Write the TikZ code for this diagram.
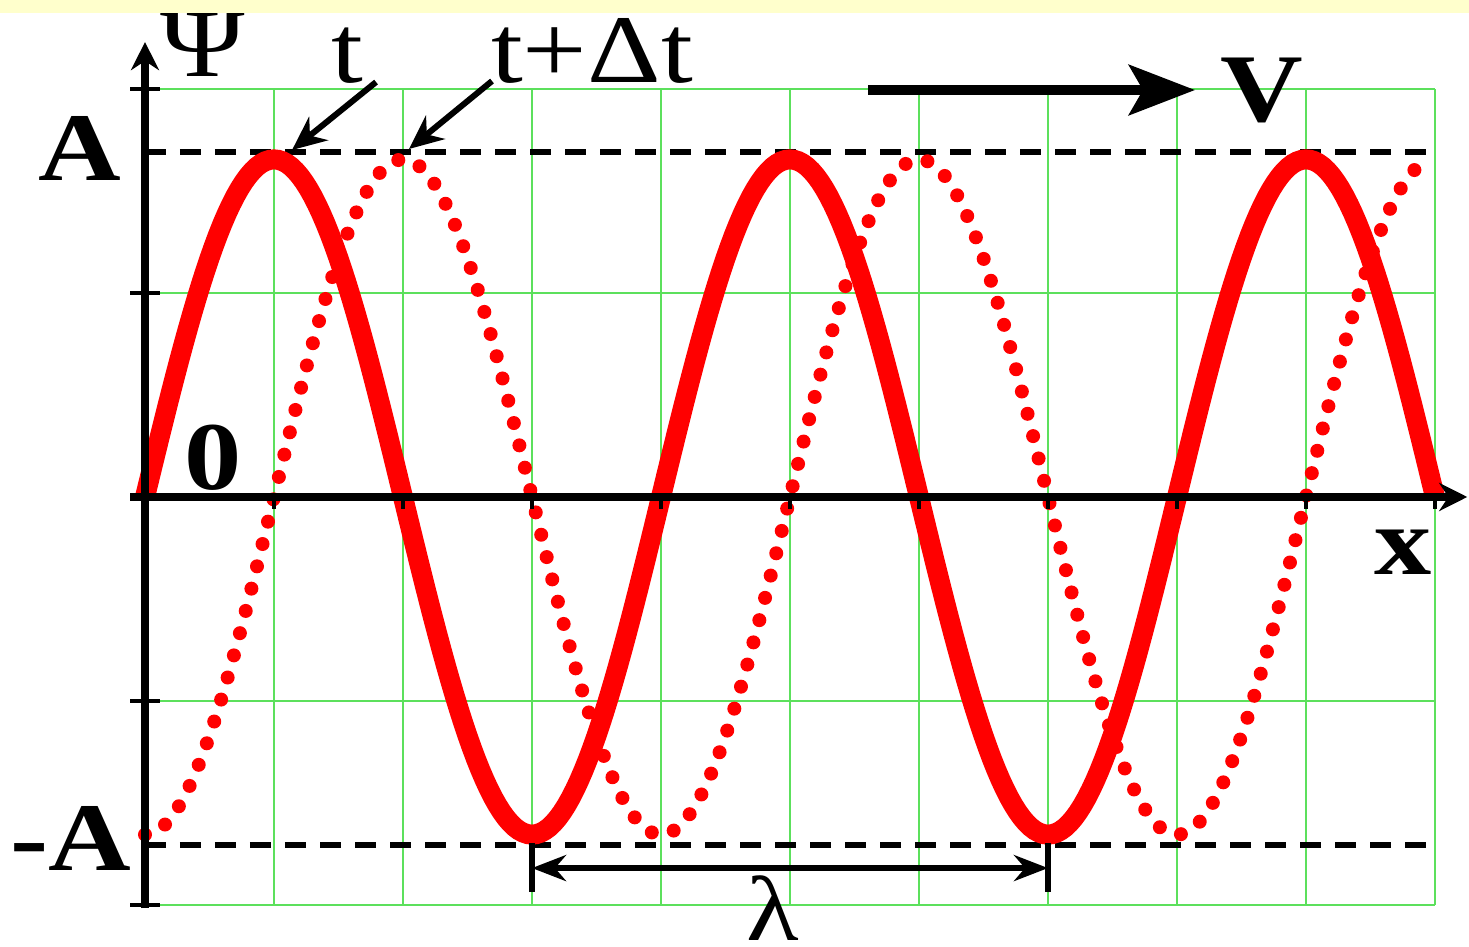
\documentclass[tikz,border=0pt]{standalone}
\usepackage{fontspec}
\setmainfont{Liberation Serif}[FakeStretch=1.18]
\usetikzlibrary{arrows.meta}
\definecolor{slideband}{HTML}{FFFFCC}
\definecolor{gridgreen}{HTML}{5CE05C}
\definecolor{wavered}{HTML}{FF0000}
\newcommand{\lblsize}{\fontsize{48.5}{58}\selectfont}
\newcommand{\wavenow}[1]{1.655*sin(90*(#1))}
\newcommand{\wavelater}[1]{-1.655*cos(90*(#1))}

\begin{document}
\begin{tikzpicture}[
  x=64.5pt,
  y=102pt,
  every node/.style={font=\lblsize, black, inner sep=0pt},
  heavy/.style={font=\lblsize\bfseries},
  axis/.style={black, line width=4pt, -{Stealth[length=14pt, width=14pt]}},
  tick/.style={black, line width=2.2pt},
  gridline/.style={gridgreen, line width=1pt},
  ampline/.style={black, line width=2.8pt, dash pattern=on 10.5pt off 7pt},
  solidwave/.style={wavered, line width=10pt},
  dotwave/.style={wavered, line width=7pt, line cap=round,
                  dash pattern=on 0pt off 11.5pt},
  pointer/.style={black, line width=3pt, -{Stealth[length=17pt, width=15pt]}},
  speed/.style={black, line width=5pt,
                -{Stealth[length=33pt, width=25pt, inset=7pt]}},
  span/.style={black, line width=2.8pt,
               {Stealth[length=17pt, width=13pt]}-{Stealth[length=17pt, width=13pt]}},
  lambar/.style={black, line width=2.8pt}
]
  % ---- frame: one grid step is 1 unit, the page keeps the slide margins ----
  \useasboundingbox (-1.12403,-2.20588) rectangle (10.26357,2.43627);
  \fill[white] (-1.12403,-2.20588) rectangle (10.26357,2.43627);

  % ---- grid ---------------------------------------------------------------
  \foreach \gx in {1,...,10}
    \draw[gridline] (\gx,-2) -- (\gx,2);
  \foreach \gy in {-2,-1,1,2}
    \draw[gridline] (0,\gy) -- (10,\gy);

  % ---- amplitude levels ---------------------------------------------------
  \draw[ampline] (0,1.692) -- (10,1.692);
  \draw[ampline] (0,-1.706) -- (10,-1.706);

  % ---- the wave at t (solid) and at t + dt (dotted, a quarter step on) ----
  \draw[solidwave] plot[domain=0:10, samples=301] (\x,{\wavenow{\x}});
  \draw[dotwave] plot[domain=0:9.92, samples=301] (\x,{\wavelater{\x}});

  % ---- axes ---------------------------------------------------------------
  \coordinate (yfoot) at (0,-2.015);
  \coordinate (ytop) at (0,2.23);
  \coordinate (xfoot) at (-0.116,0);
  \coordinate (xtip) at (10.25,0);
  \draw[axis] (yfoot) -- (ytop);
  \draw[axis] (xfoot) -- (xtip);
  \foreach \gy in {-2,-1,1,2}
    \draw[tick] (-0.116,\gy) -- (0.116,\gy);
  \foreach \gx in {1,...,10}
    \draw[tick] (\gx,0) -- (\gx,-0.06);

  % ---- labels -------------------------------------------------------------
  \node[heavy, anchor=base] (ampTop) at (-0.504,1.549) {A};
  \node[heavy, anchor=base] (ampBot) at (-0.574,-1.833) {-A};
  \node[heavy, anchor=base] (zero) at (0.527,0.039) {0};
  \node[anchor=base] (psi) at (0.45,2.059) {Ψ};
  \node[anchor=base] (tNow) at (1.57,2.034) {t};
  \node[anchor=base] (tLater) at (3.465,2.034) {t+Δt};
  \node[heavy, anchor=base] (speedLbl) at (8.659,1.843) {V};
  \node[heavy, anchor=base] (xLbl) at (9.752,-0.382) {x};
  \node[anchor=base, font=\fontsize{46}{54}\selectfont] (lam)
    at (4.868,-2.175) {λ};

  % ---- pointers to the two crests ----------------------------------------
  \coordinate (tNowFoot) at (1.791,2.034);
  \coordinate (crestNow) at (1.14,1.701);
  \coordinate (tLaterFoot) at (2.69,2.039);
  \coordinate (crestLater) at (2.047,1.706);
  \draw[pointer] (tNowFoot) -- (crestNow);
  \draw[pointer] (tLaterFoot) -- (crestLater);

  % ---- direction of travel -----------------------------------------------
  \coordinate (speedTail) at (5.605,1.995);
  \coordinate (speedHead) at (8.14,1.995);
  \draw[speed] (speedTail) -- (speedHead);

  % ---- one wavelength, trough to trough ----------------------------------
  \coordinate (lamL) at (3,-1.819);
  \coordinate (lamR) at (7,-1.819);
  \draw[lambar] (3,-1.696) -- (3,-1.936);
  \draw[lambar] (7,-1.696) -- (7,-1.936);
  \draw[span] (lamL) -- (lamR);

  % ---- slide band over the top edge --------------------------------------
  \fill[slideband] (-1.12403,2.3725) rectangle (10.26357,2.43627);
\end{tikzpicture}
\end{document}
